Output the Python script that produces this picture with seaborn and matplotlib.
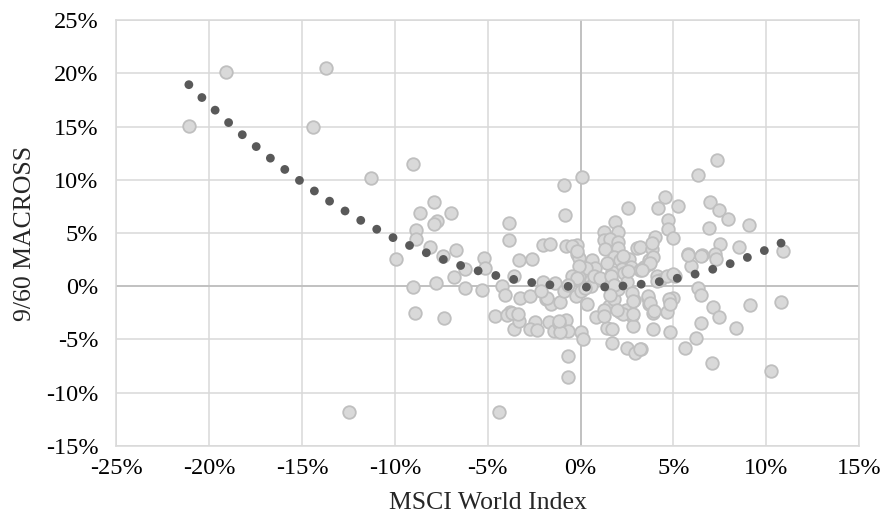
import numpy as np
import pandas as pd
import matplotlib
matplotlib.use("Agg")
import matplotlib.pyplot as plt
from matplotlib.ticker import PercentFormatter
import seaborn as sns

# MSCI World Index monthly return (%) vs 9/60 MACROSS return (%)
msci = [
    -21.1, -19.1, -13.7, -14.4, -11.3, -12.5, -4.4,
    -9.0, -7.9, -8.65, -7.0, -7.75, -7.9, -3.85, -8.85, -8.85, -3.85, -9.95, -8.1, -6.7,
    -7.4, -5.2, -3.3, -5.15, -6.2, -6.8, -3.6, -9.0, -7.8, -6.2, -5.3, -4.25, -4.05,
    -8.9, -7.35, -4.6, -3.8, -3.95, -3.6, -3.3,
    -0.9, 0.1, -0.85, -2.0, -1.65, -0.8, -0.18, -0.18, -2.6, 0.63, 0.8, 0.3, -0.1,
    -2.0, -1.35, 0.9, 0.1, 1.25, 1.85, 2.0, 1.25, 1.6, 2.0, 1.3, 2.0, 2.55, 3.05,
    1.8, 2.1, 2.6, 2.7, 3.4, 2.25, 1.7, 2.35, 3.7, 1.7, 2.5, 0.55,
    7.35, 6.35, 4.55, 4.15, 5.25, 7.0, 7.45, 7.95, 9.1, 4.7, 4.7, 6.9, 4.0, 5.0,
    3.2, 3.85, 3.85, 3.9, 3.7, 7.5, 8.55, 10.9, 5.8, 6.55, 7.25, 7.3, 5.95, 5.1,
    4.1, 4.3, 3.2, 6.35,
    -0.65, -0.65, -3.25, -2.7, -1.85, -1.6, -1.1, -3.7, -2.45, -2.7, -2.35, -1.7,
    -1.45, -0.8, -1.15, -0.65, 0.0, 0.15, -1.1, -0.25, 0.35, 0.85, 1.45, 1.7, 1.7,
    2.5, 2.95, 3.25, 1.55, 1.8, 2.9, 2.15, 2.45, 2.75, 2.8, 0.55, 2.0, 3.7,
    6.5, 7.15, 7.45, 6.5, 6.2, 5.65, 7.1, 8.4, 9.15, 10.8, 10.25, 3.65, 3.9, 4.65,
    3.9, 4.8, 3.2, 4.8, 5.0,
    -1.8, -2.15, -3.35, -1.15, -0.1, -0.1, -0.45, -0.2, 0.0, 0.25, 0.7, 1.05,
    -0.9, -0.7, -0.45, -0.2,
    1.4, 2.3, 3.75, 3.3, 2.55, 1.65, 1.8, 1.6, 2.75, 2.85, 3.65, 3.75, 4.1, 4.75,
    4.8, 4.65, 5.0, 5.8, 6.5, 3.95, 2.3, 2.85, 1.95, 1.25, 1.25,
]
macross = [
    15.1, 20.1, 20.5, 15.0, 10.2, -11.8, -11.8,
    11.5, 7.9, 6.85, 6.85, 6.1, 5.8, 5.9, 5.3, 4.4, 4.3, 2.55, 3.65, 3.4,
    2.85, 2.65, 2.5, 1.7, 1.6, 0.85, 1.0, -0.05, 0.28, -0.2, -0.4, 0.05, -0.85,
    -2.5, -3.0, -2.8, -2.4, -2.7, -4.05, -3.3,
    9.5, 10.3, 6.7, 3.9, 3.95, 3.8, 3.85, 3.0, 2.6, 2.45, 1.7, 1.7, 0.9,
    0.4, 0.3, 0.55, 0.1, 5.1, 6.05, 5.1, 4.35, 4.4, 4.2, 3.5, 3.55, 7.35, 3.55,
    2.75, 2.45, 2.6, 1.8, 1.8, 1.65, 1.35, 1.2, 2.45, 0.4, 0.4, 0.55,
    11.9, 10.45, 8.4, 7.35, 7.55, 7.95, 7.2, 6.3, 5.75, 6.25, 5.35, 5.45, 4.65, 4.5,
    3.7, 3.45, 4.1, 2.7, 2.05, 4.0, 3.7, 3.3, 3.0, 2.9, 3.0, 2.6, 1.9, 0.95,
    0.95, 0.6, 1.55, -0.15,
    -6.55, -8.5, -1.1, -0.95, -1.25, -1.65, -1.5, -2.5, -3.4, -4.05, -4.1, -3.4,
    -4.2, -3.15, -3.6, -4.2, -4.3, -5.0, -4.35, -0.95, -1.7, -2.9, -3.9, -4.05, -5.3,
    -5.8, -6.3, -5.9, -1.9, -1.25, -1.3, -2.45, -2.25, -2.8, -3.75, 0.0, -0.3, -1.7,
    -0.85, -1.95, -2.9, -3.45, -4.85, -5.85, -7.25, -3.9, -1.8, -1.45, -8.0, -1.1, -2.5, -2.45,
    -4.0, -4.3, -5.95, -1.4, -1.1,
    -1.1, -0.45, -2.65, -3.3, 2.65, 1.9, 0.95, 0.8, -0.45, -0.15, 0.95, 0.8,
    -0.45, 0.15, 3.75, 3.3,
    2.2, 2.8, 2.2, 1.55, 1.4, 0.95, 0.15, -0.8, -0.65, -1.4, -0.95, -1.55, 0.45, -1.25,
    -1.7, 0.95, 1.1, 2.95, 2.8, -2.35, -2.65, -2.65, -2.2, -2.2, -2.8,
]

x_ticks = [-25, -20, -15, -10, -5, 0, 5, 10, 15]
y_ticks = [-15, -10, -5, 0, 5, 10, 15, 20, 25]

df = pd.DataFrame({"MSCI World Index": msci, "9/60 MACROSS": macross})

sns.set_theme(style="white")
plt.rcParams["font.family"] = ["Liberation Serif", "DejaVu Serif"]
plt.rcParams["axes.unicode_minus"] = False

fig = plt.figure(figsize=(8.85, 5.18), dpi=100)
ax = fig.add_axes([0.1316, 0.1396, 0.8390, 0.8212])

grid_c = "#D9D9D9"
ax.set_xlim(x_ticks[0], x_ticks[-1])
ax.set_ylim(y_ticks[0], y_ticks[-1])
ax.set_xticks(x_ticks)
ax.set_yticks(y_ticks)
ax.grid(True, color=grid_c, linewidth=1.1, zorder=0)
ax.set_axisbelow(True)
ax.axhline(0, color="#BFBFBF", linewidth=1.3, zorder=1)
ax.axvline(0, color="#BFBFBF", linewidth=1.3, zorder=1)
for s in ax.spines.values():
    s.set_color(grid_c)
    s.set_linewidth(1.1)

sns.scatterplot(data=df, x="MSCI World Index", y="9/60 MACROSS", ax=ax,
                s=82, color="#D9D9D9", edgecolor="#BFBFBF", linewidth=1.3,
                zorder=3, legend=False)

# Polynomial (order 2) trendline computed from the data, drawn as round dots
coef = np.polyfit(df["MSCI World Index"], df["9/60 MACROSS"], 2)
xs = np.linspace(min(msci), max(msci), 2000)
ys = np.polyval(coef, xs)
disp = ax.transData.transform(np.column_stack([xs, ys]))
seg = np.hypot(np.diff(disp[:, 0]), np.diff(disp[:, 1]))
arc = np.concatenate([[0], np.cumsum(seg)])
gap_px = 18.3
targets = np.arange(0, arc[-1], gap_px)
tx = np.interp(targets, arc, xs)
trend = pd.DataFrame({"x": tx, "y": np.polyval(coef, tx)})
sns.scatterplot(data=trend, x="x", y="y", ax=ax, s=40, color="#595959",
                edgecolor="none", linewidth=0, zorder=4, legend=False)

ax.xaxis.set_major_formatter(PercentFormatter(100, decimals=0))
ax.yaxis.set_major_formatter(PercentFormatter(100, decimals=0))
ax.tick_params(axis="x", length=0, labelsize=17.5, colors="black", pad=9)
ax.tick_params(axis="y", length=0, labelsize=17.5, colors="black", pad=13)
ax.set_xlabel("MSCI World Index", fontsize=18.5, labelpad=9)
ax.set_ylabel("9/60 MACROSS", fontsize=18.5, labelpad=7)

fig.savefig("out.png", dpi=100)
